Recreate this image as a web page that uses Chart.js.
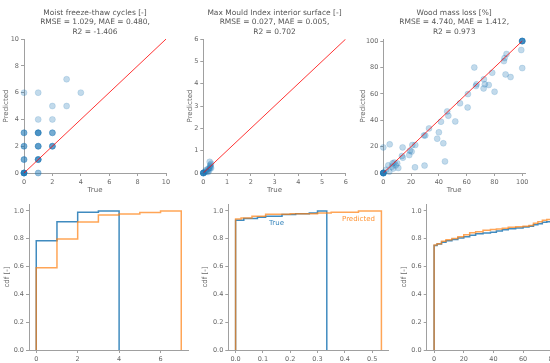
<!DOCTYPE html>
<html>
<head>
<meta charset="utf-8">
<script src="https://cdn.jsdelivr.net/npm/chart.js@4.4.0/dist/chart.umd.min.js"></script>
<style>
  html, body { margin: 0; padding: 0; background: #fff; width: 550px; height: 363px; overflow: hidden; }
  canvas { position: absolute; }
</style>
</head>
<body>
<canvas id="p1" width="183" height="194" style="left:0px;top:0px"></canvas>
<canvas id="p2" width="180" height="194" style="left:184px;top:0px"></canvas>
<canvas id="p3" width="193" height="194" style="left:357px;top:0px"></canvas>
<canvas id="p4" width="190" height="180" style="left:1px;top:190px"></canvas>
<canvas id="p5" width="192" height="180" style="left:199px;top:190px"></canvas>
<canvas id="p6" width="200" height="180" style="left:398px;top:190px"></canvas>
<script>
// ---- scatter data (true vs predicted) ----
var ftTrue = [0,0,0,0,0,0,0,0, 0,0,0, 0,0,0, 0,0,0, 0, 1,1, 1,1,1,1,1, 1,1,1,1, 1,1,1,1,1, 1, 1, 2,2,2,2, 2,2,2, 2, 2, 3, 3, 4];
var ftPred = [0,0,0,0,0,0,0,0, 1,1,1, 2,2,2, 3,3,3, 6, 0,0, 1,1,1,1,1, 2,2,2,2, 3,3,3,3,3, 4, 6, 2,2,2,2, 3,3,3, 4, 5, 5, 7, 6];

var mouldTrue = [0,0,0,0,0,0, 0.05, 0.1, 0.11, 0.15, 0.2, 0.2, 0.25, 0.25, 0.27, 0.28, 0.3, 0.3, 0.33, 0.33];
var mouldPred = [0,0,0,0,0,0, 0.03, 0.08, 0.13, 0.06, 0.18, 0.04, 0.2, 0.12, 0.5, 0.3, 0.25, 0.36, 0.42, 0.22];

var massTrue = [0,0,0,0,0,0,0,0, 0, 4.6, 3.6, 6.7, 6.2, 7.2, 4.3, 10, 10.8, 9, 13.4, 14.1, 13.9, 18.7, 19.2, 20.4, 20.9, 23, 22.8,
  29.3, 30.2, 29.7, 32.9, 38.8, 40, 41.5, 43.2, 44.4, 46, 46.8, 51.8, 55.2, 60.9, 60.7, 65.5, 66.7, 67.1, 72.2, 72.4, 73.1,
  75.9, 78.4, 80.1, 86.8, 87.3, 88.7, 88, 91.6, 99.3, 100, 100,100,100,100,100,100, 2, 8];
var massPred = [0,0,0,0,0,0,0,0, 19.4, 21.7, 5.8, 7.3, 4.8, 3.5, 1, 7.3, 3.8, 5.8, 12.9, 11.6, 19.4, 13.6, 16.9, 16.2, 21.2, 21.2, 4.3,
  28.5, 28.5, 5.6, 33.8, 26, 30.8, 38.9, 22.5, 8.8, 46.7, 43.4, 39.1, 52.8, 59.8, 49.7, 80, 65.9, 67.2, 64.1, 71, 67.2,
  66.7, 76, 61.6, 84.8, 87.1, 90.2, 74.7, 72.7, 93.2, 79.5, 100,100,100,100,100,100, 2.5, 8];

var ftTicks = [0, 2, 4, 6, 8, 10];
var mouldTicks = [0, 1, 2, 3, 4, 5, 6];
var massTicks = [0, 20, 40, 60, 80, 100];

// ---- cdf steps: bin edges and cdf value on each bin ----
var ftCdfEdges = [0, 1, 2, 3, 4];
var ftCdfTrue = [0.786, 0.923, 0.99, 1.0];
var ftCdfPredEdges = [0, 1, 2, 3, 4, 5, 6, 7];
var ftCdfPred = [0.591, 0.798, 0.921, 0.971, 0.978, 0.988, 1.0];

var mouldCdfEdges = [0, 0.03, 0.08, 0.11, 0.17, 0.22, 0.27, 0.30, 0.334];
var mouldCdfTrue = [0.933, 0.945, 0.954, 0.962, 0.974, 0.979, 0.986, 1.0];
var mouldCdfPredEdges = [0, 0.02, 0.06, 0.11, 0.2, 0.3, 0.35, 0.45, 0.534];
var mouldCdfPred = [0.942, 0.95, 0.962, 0.976, 0.979, 0.985, 0.99, 1.0];

var massCdfEdges = [0, 2, 5, 8, 12, 16, 20, 24, 28, 33, 38, 42, 46, 50, 55, 60, 64, 67, 70, 73, 76, 80, 85, 90, 95, 100];
var massCdfTrue = [0.752, 0.762, 0.775, 0.785, 0.795, 0.805, 0.815, 0.826, 0.836, 0.842, 0.846, 0.856, 0.865,
  0.872, 0.878, 0.884, 0.89, 0.9, 0.908, 0.918, 0.923, 0.93, 0.94, 0.95, 0.965];
var massCdfPred = [0.755, 0.765, 0.782, 0.792, 0.802, 0.815, 0.828, 0.843, 0.85, 0.862, 0.866, 0.87, 0.876,
  0.882, 0.886, 0.89, 0.896, 0.912, 0.922, 0.933, 0.938, 0.945, 0.95, 0.96, 0.97];

var cdfTicks = [0, 0.2, 0.4, 0.6, 0.8, 1.0];
var ftCdfXTicks = [0, 2, 4, 6];
var mouldCdfXTicks = [0, 0.1, 0.2, 0.3, 0.4, 0.5];
var massCdfXTicks = [0, 20, 40, 60, 80, 100];

var grey = '#666';
var spine = '#a0a0a0';
var blue = 'rgba(31,119,180,0.85)';
var orange = 'rgba(255,127,14,0.7)';
var dot = 'rgba(31,119,180,0.27)';
Chart.defaults.font.family = 'DejaVu Sans';
Chart.defaults.color = grey;

function axis(min, max, ticks, title, size, decimals) {
  return {
    type: 'linear', min: min, max: max,
    border: { display: true, color: spine, width: 1 },
    grid: { display: true, drawOnChartArea: false, drawTicks: true, tickLength: 3, color: spine },
    ticks: {
      color: grey, font: { size: 6.5 }, padding: 2, maxRotation: 0, autoSkip: false,
      callback: function (v) { return decimals ? v.toFixed(decimals) : String(v); }
    },
    title: title ? { display: true, text: title, color: grey, font: { size: 7 }, padding: { top: 2, bottom: 0 } } : { display: false },
    afterBuildTicks: function (s) { s.ticks = ticks.map(function (v) { return { value: v }; }); },
    afterFit: function (s) { if (s.isHorizontal()) s.height = size; else s.width = size; }
  };
}

function points(xs, ys) {
  return xs.map(function (x, i) { return { x: x, y: ys[i] }; });
}

// cumulative step outline: up at the first edge, flat over each bin, down at the last edge
function steps(edges, vals) {
  var pts = [{ x: edges[0], y: 0 }];
  vals.forEach(function (v, i) { pts.push({ x: edges[i], y: v }); });
  pts.push({ x: edges[edges.length - 1], y: vals[vals.length - 1] });
  pts.push({ x: edges[edges.length - 1], y: 0 });
  return pts;
}

function scatterPanel(id, title, xs, ys, lim, xMax, yMax, ticks, yW, padRight) {
  new Chart(document.getElementById(id), {
    type: 'scatter',
    data: {
      datasets: [
        { type: 'line', data: [{ x: 0, y: 0 }, { x: lim, y: lim }], borderColor: 'rgba(255,0,0,0.8)',
          borderWidth: 1, pointRadius: 0, fill: false },
        { data: points(xs, ys), backgroundColor: dot, borderColor: dot, borderWidth: 0.6, pointRadius: 3, clip: false }
      ]
    },
    options: {
      responsive: false, animation: false, devicePixelRatio: 1,
      layout: { padding: { left: 0, right: padRight, top: 0, bottom: 0 } },
      plugins: {
        legend: { display: false }, tooltip: { enabled: false },
        title: { display: true, text: title, fullSize: false, color: '#555',
          font: { size: 7.5, weight: 'normal', lineHeight: 1.27 }, padding: { top: 8, bottom: 2.5 } }
      },
      scales: {
        x: axis(0, xMax, ticks, 'True', 21),
        y: axis(0, yMax, ticks, 'Predicted', yW)
      }
    }
  });
}

scatterPanel('p1', ['Moist freeze-thaw cycles [-]', 'RMSE = 1.029, MAE = 0.480,', 'R2 = -1.406'],
  ftTrue, ftPred, 10, 10, 10, ftTicks, 24, 17);
scatterPanel('p2', ['Max Mould Index interior surface [-]', 'RMSE = 0.027, MAE = 0.005,', 'R2 = 0.702'],
  mouldTrue, mouldPred, 6, 6, 6, mouldTicks, 19.3, 18.3);
scatterPanel('p3', ['Wood mass loss [%]', 'RMSE = 4.740, MAE = 1.412,', 'R2 = 0.973'],
  massTrue, massPred, 100, 102, 101.5, massTicks, 26.3, 25);

// labels drawn inside the middle cdf panel
var cdfLabels = {
  id: 'cdfLabels',
  afterDatasetsDraw: function (chart) {
    var xs = chart.scales.x, ys = chart.scales.y, ctx = chart.ctx;
    ctx.save();
    ctx.font = '7px "DejaVu Sans"';
    ctx.textAlign = 'center';
    ctx.textBaseline = 'middle';
    ctx.fillStyle = 'rgba(31,119,180,0.9)';
    ctx.fillText('True', xs.getPixelForValue(0.15), ys.getPixelForValue(0.912));
    ctx.fillStyle = 'rgba(255,127,14,0.85)';
    ctx.fillText('Predicted', xs.getPixelForValue(0.45), ys.getPixelForValue(0.942));
    ctx.restore();
  }
};

function cdfPanel(id, predPts, truePts, xMin, xMax, xTicks, xDec, yW, padRight, plugins) {
  new Chart(document.getElementById(id), {
    type: 'line',
    data: {
      datasets: [
        { data: predPts, borderColor: orange, borderWidth: 1.5, pointRadius: 0, stepped: 'before', fill: false },
        { data: truePts, borderColor: blue, borderWidth: 1.5, pointRadius: 0, stepped: 'before', fill: false }
      ]
    },
    options: {
      responsive: false, animation: false, devicePixelRatio: 1, parsing: false,
      layout: { padding: { left: 0, right: padRight, top: 14, bottom: 0 } },
      plugins: { legend: { display: false }, tooltip: { enabled: false }, title: { display: false } },
      scales: {
        x: axis(xMin, xMax, xTicks, null, 20, xDec),
        y: axis(0, 1.05, cdfTicks, 'cdf [-]', yW, 1)
      }
    },
    plugins: plugins || []
  });
}

cdfPanel('p4', steps(ftCdfPredEdges, ftCdfPred), steps(ftCdfEdges, ftCdfTrue), -0.35, 7.35, ftCdfXTicks, 0, 28, 2.5);
cdfPanel('p5', steps(mouldCdfPredEdges, mouldCdfPred), steps(mouldCdfEdges, mouldCdfTrue), -0.0267, 0.5607, mouldCdfXTicks, 1, 29.3, 2.3, [cdfLabels]);
cdfPanel('p6', steps(massCdfEdges, massCdfPred), steps(massCdfEdges, massCdfTrue), -5, 105, massCdfXTicks, 0, 28.7, 8.2);
</script>
</body>
</html>
